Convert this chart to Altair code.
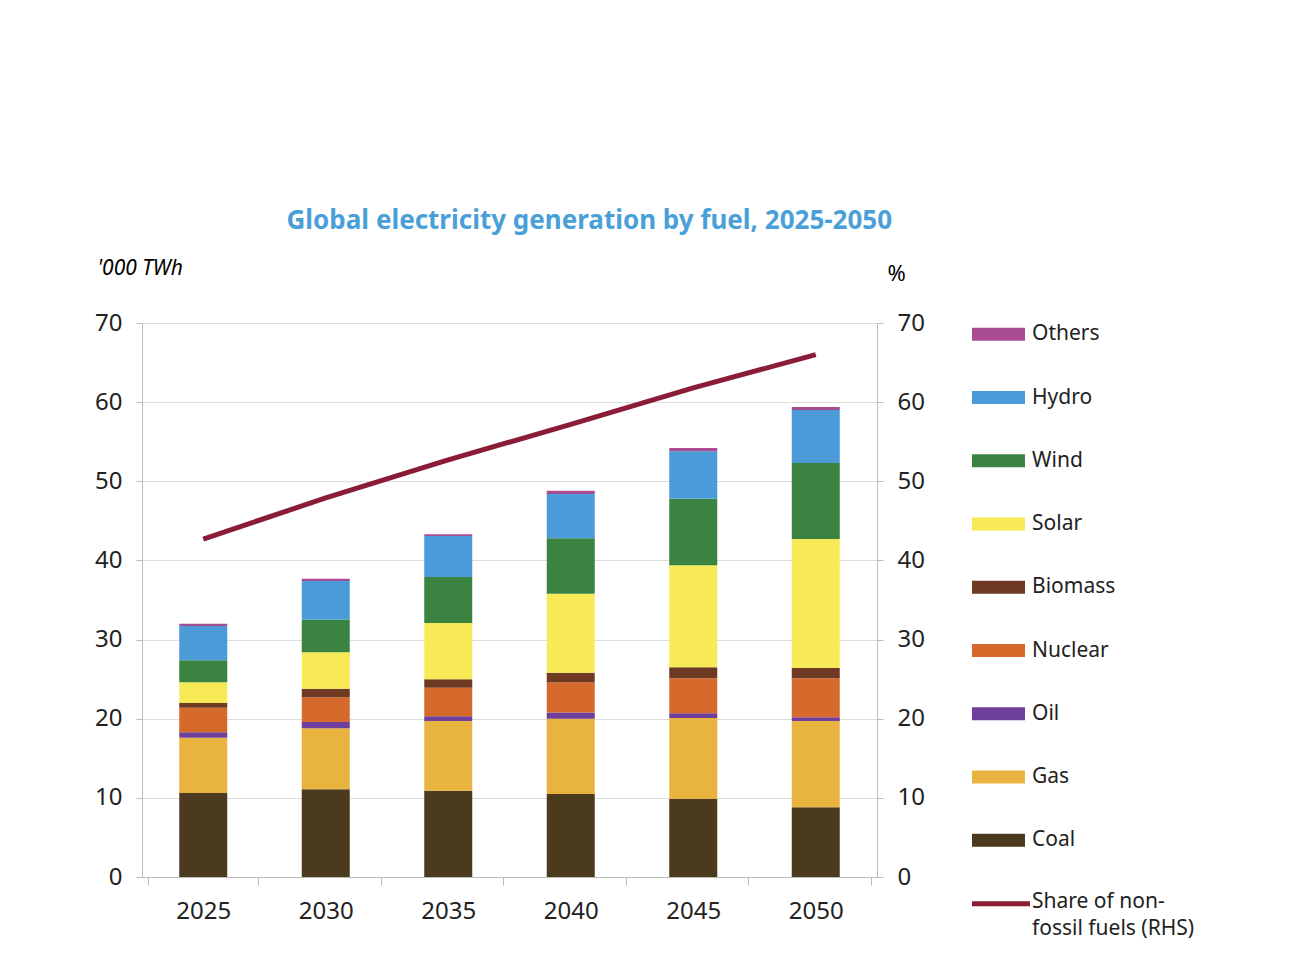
import altair as alt
import pandas as pd

years = ["2025", "2030", "2035", "2040", "2045", "2050"]
fuels = ["Coal", "Gas", "Oil", "Nuclear", "Biomass", "Solar", "Wind", "Hydro", "Others"]
colors = ["#4b3a1d", "#e8b43f", "#6e3f9b", "#d66a2c", "#6e3a22", "#f8ea56", "#3b8341", "#4a9bd7", "#a94c92"]
# cumulative tops, '000 TWh
tops = {
    "2025": [10.6, 17.6, 18.3, 21.4, 22.0, 24.6, 27.4, 31.7, 32.0],
    "2030": [11.1, 18.8, 19.6, 22.7, 23.8, 28.4, 32.5, 37.4, 37.7],
    "2035": [10.9, 19.7, 20.3, 23.9, 25.0, 32.1, 37.9, 43.1, 43.3],
    "2040": [10.5, 20.0, 20.8, 24.6, 25.8, 35.8, 42.8, 48.4, 48.8],
    "2045": [9.9, 20.1, 20.7, 25.1, 26.5, 39.4, 47.8, 53.8, 54.2],
    "2050": [8.8, 19.7, 20.2, 25.1, 26.4, 42.7, 52.3, 59.0, 59.4],
}
share = [42.7, 47.9, 52.7, 57.2, 61.8, 66.0]

rows = []
for y in years:
    prev = 0
    for i, f in enumerate(fuels):
        rows.append({"year": y, "fuel": f, "order": i, "value": round(tops[y][i] - prev, 2)})
        prev = tops[y][i]
df = pd.DataFrame(rows)
line_df = pd.DataFrame({"year": years, "share": share})

font = "Noto Sans"
yscale = alt.Scale(domain=[0, 70])

bars = alt.Chart(df).mark_bar(size=48).encode(
    x=alt.X("year:N", title=None, sort=years,
            axis=alt.Axis(labelAngle=0, labelFontSize=24, labelColor="#222", labelPadding=14,
                          tickBand="extent", tickColor="#bbb", tickSize=8, domainColor="#bbb")),
    y=alt.Y("value:Q", stack="zero", scale=yscale,
            axis=alt.Axis(values=list(range(0, 71, 10)), title="'000 TWh", titleAngle=0,
                          titleAlign="left", titleX=-45, titleY=-45, titleFontStyle="italic",
                          titleFontWeight="normal", titleFontSize=21, labelFontSize=24,
                          labelColor="#222", labelPadding=14, domainColor="#bbb",
                          tickColor="#bbb", tickSize=6, gridColor="#ddd")),
    color=alt.Color("fuel:N", scale=alt.Scale(domain=fuels, range=colors), legend=None),
    order=alt.Order("order:Q"),
)

line = alt.Chart(line_df).mark_line(color="#8b1c38", strokeWidth=5).encode(
    x=alt.X("year:N", sort=years),
    y=alt.Y("share:Q", scale=yscale,
            axis=alt.Axis(orient="right", values=list(range(0, 71, 10)), title="%", titleAngle=0,
                          titleAlign="left", titleX=10, titleY=-38, titleFontWeight="normal",
                          titleFontSize=22, labelFontSize=24, labelColor="#222", labelPadding=14,
                          domainColor="#bbb", tickColor="#bbb", tickSize=6, grid=False)),
)

main = alt.layer(bars, line).resolve_scale(y="independent").properties(width=735, height=554)

leg_names = fuels[::-1]
leg_df = pd.DataFrame({"name": leg_names, "idx": list(range(len(leg_names))), "col": colors[::-1]})
ly = alt.Scale(domain=[-0.1, 8.5], reverse=True)
lx = alt.Scale(domain=[0, 250])
leg_rect = alt.Chart(leg_df).mark_bar(height=13).encode(
    x=alt.X("a:Q", scale=lx, axis=None), x2="b:Q",
    y=alt.Y("idx:Q", scale=ly, axis=None),
    color=alt.Color("col:N", scale=None),
).transform_calculate(a="0", b="53")
leg_text = alt.Chart(leg_df).mark_text(align="left", fontSize=21, font=font, color="#222").encode(
    x=alt.X("t:Q", scale=lx), y=alt.Y("idx:Q", scale=ly), text="name:N",
).transform_calculate(t="60")
share_df = pd.DataFrame({"idx": [9], "label": ["Share of non-\nfossil fuels (RHS)"]})
leg_line = alt.Chart(share_df).mark_rule(color="#8b1c38", strokeWidth=5).encode(
    x=alt.X("a:Q", scale=lx), x2="b:Q", y=alt.Y("idx:Q", scale=ly),
).transform_calculate(a="0", b="58")
leg_line_text = alt.Chart(share_df).mark_text(align="left", baseline="top", fontSize=21, font=font,
                                              color="#222", lineBreak="\n", dy=-13, lineHeight=27).encode(
    x=alt.X("t:Q", scale=lx), y=alt.Y("idx:Q", scale=ly), text="label:N",
).transform_calculate(t="60")
legend = alt.layer(leg_rect, leg_text, leg_line, leg_line_text).properties(width=250, height=554)

chart = alt.hconcat(main, legend, spacing=44).properties(
    title=alt.TitleParams("Global electricity generation by fuel, 2025-2050", fontSize=26,
                          color="#4a9fd8", font=font, fontWeight="bold", anchor="start",
                          dx=192, offset=23),
    padding={"left": 86, "top": 200, "right": 10, "bottom": 10},
    background="white",
).configure(font=font).configure_view(strokeWidth=0)

chart.save("out.html", embed_options={"renderer": "svg", "actions": False})
